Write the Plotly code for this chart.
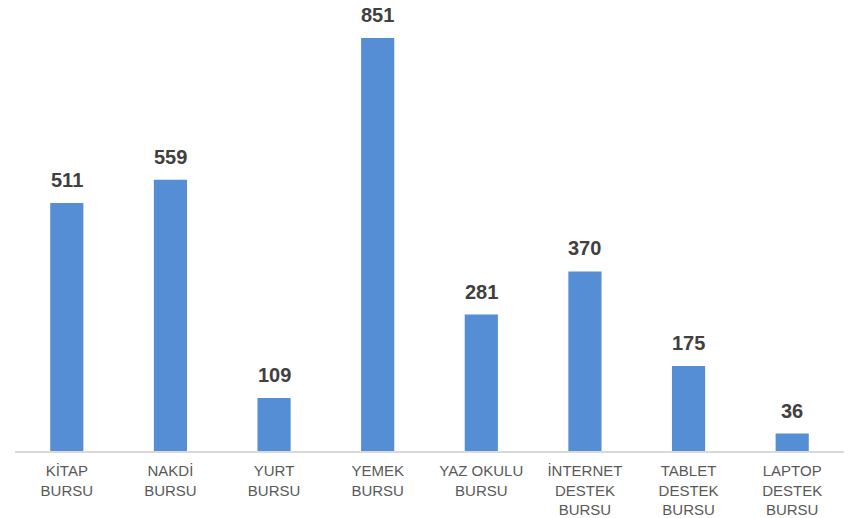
import plotly.graph_objects as go

categories = ["KİTAP<br>BURSU", "NAKDİ<br>BURSU", "YURT<br>BURSU", "YEMEK<br>BURSU",
              "YAZ OKULU<br>BURSU", "İNTERNET<br>DESTEK<br>BURSU", "TABLET<br>DESTEK<br>BURSU",
              "LAPTOP<br>DESTEK<br>BURSU"]
values = [511, 559, 109, 851, 281, 370, 175, 36]

font_family = "Arial, Liberation Sans, sans-serif"

fig = go.Figure()
fig.add_trace(go.Bar(
    x=list(range(len(categories))),
    y=values,
    marker=dict(color="#558ED5", line=dict(width=0)),
    width=0.32,
    hoverinfo="skip",
))

for i, v in enumerate(values):
    fig.add_annotation(x=i, y=v, text="<b>%d</b>" % v, showarrow=False,
                       yanchor="middle", yshift=23,
                       font=dict(family=font_family, size=20, color="#404040"))

fig.update_layout(
    width=852, height=518,
    margin=dict(l=15, r=8, t=20, b=67, autoexpand=False),
    paper_bgcolor="white", plot_bgcolor="white",
    showlegend=False,
    font=dict(family=font_family),
    xaxis=dict(
        tickmode="array",
        tickvals=list(range(len(categories))),
        ticktext=categories,
        range=[-0.5, len(categories) - 0.5],
        showgrid=False, zeroline=False,
        showline=True, linecolor="#D9D9D9", linewidth=2,
        ticks="", ticklabelstandoff=5,
        tickfont=dict(family=font_family, size=15, color="#595959"),
        automargin=False,
    ),
    yaxis=dict(range=[0, 888], visible=False, showgrid=False, zeroline=False),
)

fig.write_html("out.html",
               config={"displayModeBar": False, "staticPlot": True},
               post_script="document.body.style.margin='0';document.body.style.overflow='hidden';")
